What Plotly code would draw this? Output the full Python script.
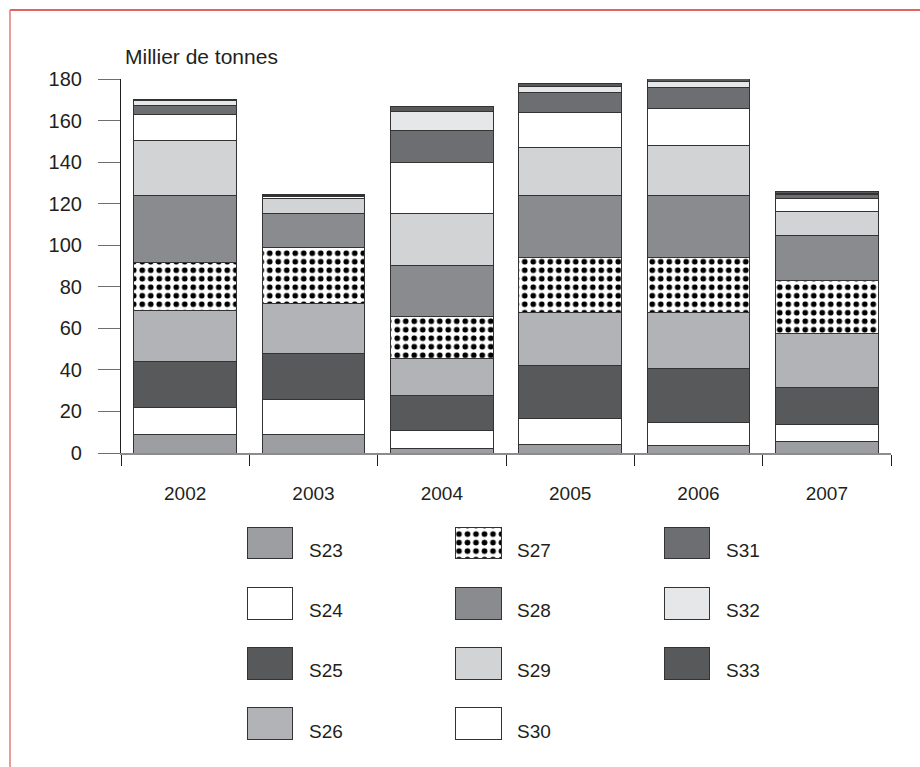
import plotly.graph_objects as go

years = ["2002", "2003", "2004", "2005", "2006", "2007"]
series = ["S23", "S24", "S25", "S26", "S27", "S28", "S29", "S30", "S31", "S32", "S33"]

S23 = [9.0, 9.0, 2.3, 4.0, 3.5, 5.6]
S24 = [12.7, 16.8, 8.4, 12.7, 11.2, 8.0]
S25 = [22.1, 22.2, 17.0, 25.4, 26.1, 17.9]
S26 = [24.7, 23.9, 17.9, 25.4, 26.7, 26.2]
S27 = [23.3, 26.9, 20.3, 26.4, 26.4, 25.2]
S28 = [31.9, 16.3, 24.5, 29.8, 29.8, 21.6]
S29 = [26.6, 7.2, 24.7, 23.4, 24.5, 11.8]
S30 = [12.4, 1.0, 24.7, 16.8, 17.6, 6.0]
S31 = [4.4, 0.4, 15.6, 9.7, 9.9, 1.9]
S32 = [2.7, 0.2, 8.9, 2.7, 2.9, 0.8]
S33 = [0.4, 0.3, 2.3, 1.5, 2.2, 0.8]

values = [S23, S24, S25, S26, S27, S28, S29, S30, S31, S32, S33]
colors = ["#9d9ea1", "#ffffff", "#58595b", "#b1b3b6", "#ffffff", "#8a8b8e",
          "#d1d3d4", "#ffffff", "#6d6e71", "#e6e7e8", "#58595b"]
y_title = "Millier de tonnes"
y_ticks = [0, 20, 40, 60, 80, 100, 120, 140, 160, 180]

W, H = 920, 767
ML, MT = 10, 10
PW, PH = W - ML, H - MT


def px_x(px):
    return (px - ML) / PW


def px_y(py):
    return (H - py) / PH


FONT = "Liberation Sans, Arial, sans-serif"
TXT = "#231f20"
fig = go.Figure()

for name, vals, col in zip(series, values, colors):
    marker = dict(color=col, line=dict(color="#333333", width=1))
    if name == "S27":
        marker["pattern"] = dict(shape=".", fgcolor="#000000", bgcolor="#ffffff",
                                 size=8.5, solidity=0.35, fillmode="replace")
    fig.add_trace(go.Bar(x=years, y=vals, name=name, marker=marker,
                         showlegend=False, cliponaxis=False))

# legend swatches drawn on a helper axis pair (3 columns, column-major)
for i, (name, col) in enumerate(zip(series, colors)):
    c, r = i // 4, i % 4
    marker = dict(color=col, line=dict(color="#333333", width=1))
    if name == "S27":
        marker["pattern"] = dict(shape=".", fgcolor="#000000", bgcolor="#ffffff",
                                 size=8.5, solidity=0.35, fillmode="replace")
    fig.add_trace(go.Bar(x=[c], y=[0.53], base=[r - 0.265], width=[0.22],
                         marker=marker, xaxis="x2", yaxis="y2",
                         showlegend=False, hoverinfo="skip"))
    fig.add_annotation(x=c + 0.177, y=r + 0.12, xref="x2", yref="y2",
                       text=name, showarrow=False, xanchor="left", yanchor="middle",
                       font=dict(family=FONT, size=19, color=TXT))

fig.update_layout(
    width=W, height=H,
    margin=dict(l=ML, r=0, t=MT, b=0, autoexpand=False),
    paper_bgcolor="white", plot_bgcolor="white",
    barmode="stack", bargap=0.2,
    font=dict(family=FONT, size=19, color=TXT),
    xaxis=dict(domain=[px_x(121), px_x(891)], type="category",
               showline=True, linecolor="#8c8c8c", linewidth=1.5,
               ticks="outside", tickson="boundaries", ticklen=11,
               tickcolor=TXT, tickwidth=1.2,
               showgrid=False, zeroline=False,
               tickfont=dict(size=19), ticklabelstandoff=22),
    yaxis=dict(domain=[px_y(453), px_y(79)], range=[0, 180],
               tickvals=y_ticks, showline=True, linecolor=TXT, linewidth=1.2,
               ticks="outside", ticklen=22, tickcolor="#6d6e71", tickwidth=1.2,
               showgrid=False, zeroline=False,
               tickfont=dict(size=20), ticklabelstandoff=12),
    xaxis2=dict(domain=[px_x(165.75), px_x(791.25)], range=[-0.5, 2.5],
                visible=False, fixedrange=True),
    yaxis2=dict(domain=[px_y(754.15), px_y(512.85)], range=[3.5, -0.5],
                visible=False, fixedrange=True),
    showlegend=False,
)

fig.add_annotation(x=px_x(123), y=px_y(57), xref="paper", yref="paper",
                   text=y_title, showarrow=False, xanchor="left", yanchor="middle",
                   font=dict(family=FONT, size=21, color=TXT))

# red frame (partially visible)
fig.add_shape(type="line", xref="paper", yref="paper",
              x0=px_x(10), y0=px_y(10), x1=px_x(925), y1=px_y(10),
              line=dict(color="#d7302b", width=1.5))
fig.add_shape(type="line", xref="paper", yref="paper",
              x0=px_x(10), y0=px_y(10), x1=px_x(10), y1=px_y(775),
              line=dict(color="#e07a74", width=1.5))

fig.write_html(
    "out.html",
    config={"displayModeBar": False},
    post_script="document.body.style.margin='0px';document.body.style.overflow='hidden';",
)
